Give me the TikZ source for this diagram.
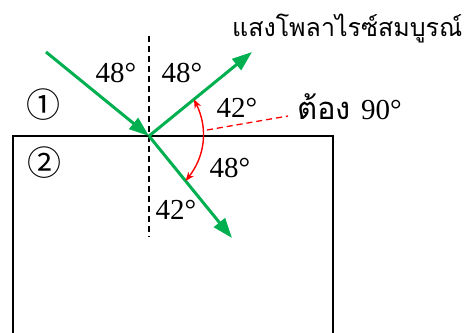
\documentclass[tikz,border=0pt]{standalone}
\usepackage{fontspec}
\setmainfont{Liberation Serif}
\newfontfamily\thaifont[Script=Thai]{Loma}
\newfontfamily\symfont{Noto Sans CJK JP}
\usetikzlibrary{arrows.meta,calc}
\definecolor{cgreen}{HTML}{00B050}
\definecolor{cred}{HTML}{FF0000}

\begin{document}
\begin{tikzpicture}[x=1pt, y=1pt,
  ray/.style={draw=cgreen, line width=3pt, -{Triangle[length=20pt,width=14pt]}},
  box/.style={draw=black, line width=1.6pt},
  normal/.style={draw=black, line width=1.3pt, dash pattern=on 6pt off 4pt},
  guide/.style={draw=cred, line width=1.3pt, dash pattern=on 6pt off 4pt},
  turn/.style={draw=cred, line width=1.4pt, {Stealth[length=9pt,width=7pt]}-{Stealth[length=9pt,width=7pt]}},
  ang/.style={inner sep=0pt, font=\fontsize{29}{30}\selectfont},
  med/.style={inner sep=0pt, font=\symfont\fontsize{34}{34}\selectfont}
]
\useasboundingbox (0,0) rectangle (473,332);

% --- medium 2: open box ---
\draw[box] (13,-3) -- (13,196) -- (333,196) -- (333,-3);

% --- normal and rays ---
\coordinate (O) at (149,196);
\coordinate (ntop) at (149,296);
\coordinate (nbot) at (149,95);
\coordinate (inc) at (46,280);
\coordinate (refl) at (252,280);
\coordinate (refr) at (232,94);
\draw[normal] (ntop) -- (nbot);
\draw[ray] (inc) -- (O);
\draw[ray] (O) -- (refl);
\draw[ray] (O) -- (refr);

% --- 90 degree mark ---
\coordinate (d1) at (207,202);
\coordinate (d2) at (288,216);
\draw[guide] (d1) -- (d2);
\coordinate (t1) at ($(O)!58pt!(refl)$);
\coordinate (t2) at ($(O)!58pt!(refr)$);
\draw[turn] (t1) to[bend left=32] (t2);

% --- labels ---
\node[ang] (aInc)   at (116,259) {48°};
\node[ang] (aRefl)  at (182,259) {48°};
\node[ang] (aRefl2) at (237,224) {42°};
\node[ang] (aRefr)  at (230,164) {48°};
\node[ang] (aRefr2) at (176,122) {42°};
\node[med] (med1) at (43,227) {①};
\node[med] (med2) at (44,169) {②};
\node[ang, anchor=base west] (tong) at (297,212)
  {{\thaifont\fontsize{31}{32}\selectfont ต้อง}\hspace{10pt}90°};
\node[inner sep=0pt, anchor=base west, font=\thaifont\fontsize{25}{26}\selectfont]
  (title) at (232,295) {แสงโพลาไรซ์สมบูรณ์};

\end{tikzpicture}
\end{document}
